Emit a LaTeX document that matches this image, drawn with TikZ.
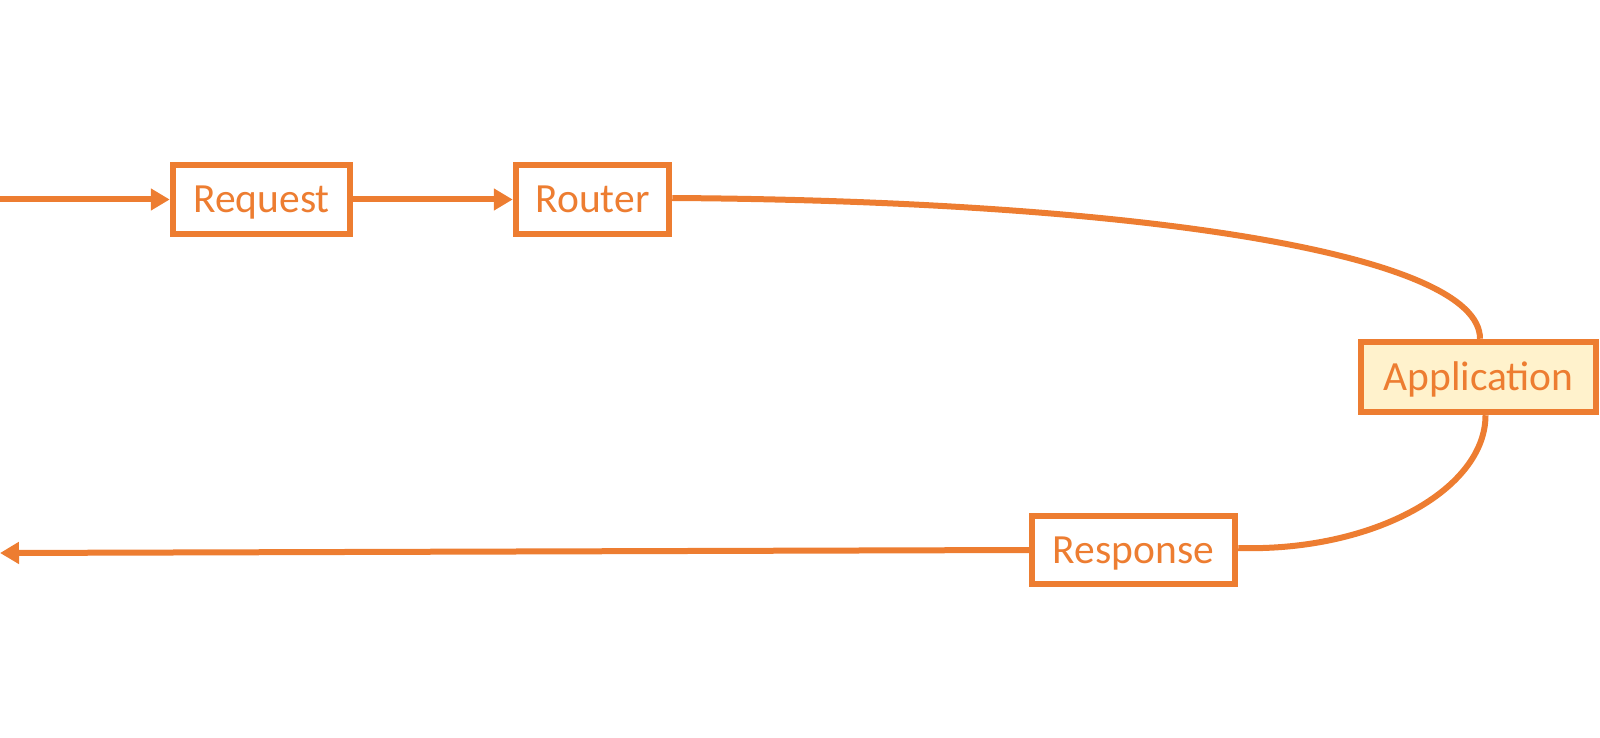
\documentclass[tikz,border=0pt]{standalone}
\usepackage{fontspec}
\setmainfont{Carlito}
\usetikzlibrary{arrows.meta}
\definecolor{acc}{HTML}{ED7D31}
\definecolor{appfill}{HTML}{FFF2CC}
\begin{document}
\begin{tikzpicture}[x=1pt,y=-1pt,
  box/.style={draw=acc, line width=6.5pt, fill=white, inner sep=0pt, text=acc,
    font=\fontsize{41.5}{48}\selectfont, text height=26.5pt, text depth=0pt,
    minimum height=69pt},
  conn/.style={draw=acc, line width=6pt},
  arr/.style={conn, -{Triangle[length=19pt,width=21pt]}}]
\useasboundingbox (0,0) rectangle (1600,738);
\node[box, minimum width=177pt] (req) at (261.5,199.5) {Request};
\node[box, minimum width=153pt] (rout) at (592.5,199.5) {Router};
\node[box, minimum width=235pt, minimum height=70pt, fill=appfill] (app) at (1478.5,377) {Application};
\node[box, minimum width=203pt, minimum height=68pt] (resp) at (1133.5,550) {Response};
\coordinate (in0) at (0,199.5);
\coordinate (out0) at (0,553);
\draw[arr] (in0) -- (req.west);
\draw[arr] (req.east) -- (rout.west);
\draw[conn] ([yshift=1.5pt]rout.east) .. controls (1141,201) and (1480,254) .. ([xshift=1.5pt]app.north);
\draw[conn] ([xshift=7pt]app.south) .. controls (1485.5,489) and (1374,552) .. ([yshift=2pt]resp.east);
\draw[arr] (resp.west) -- (out0);
\end{tikzpicture}
\end{document}
